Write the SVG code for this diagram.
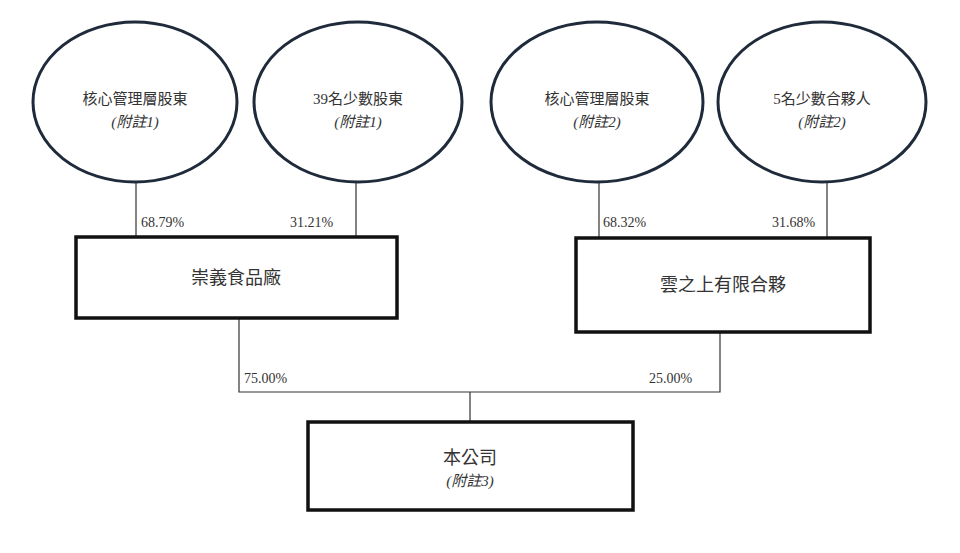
<svg xmlns="http://www.w3.org/2000/svg" width="960" height="553" viewBox="0 0 960 553">
<style>
.e{fill:#fff;stroke:#1f2a3a;stroke-width:3}
.b{fill:#fff;stroke:#111;stroke-width:3.5}
.l{stroke:#333;stroke-width:1.2;fill:none}
text{font-family:"Liberation Serif","Noto Sans CJK TC",serif;fill:#333;text-anchor:middle}
.t{font-size:15px}
.n{font-size:15px;font-style:italic}
.p{font-size:14px;text-anchor:start}
.bt{font-size:18px}
</style>
<rect width="960" height="553" fill="#fff"/>
<g id="connectors">
<path class="l" d="M136 182V237M356 180V237M599 180V238M827 180V238M239 318V392H720V332M470 392V422"/>
</g>
<g id="pct">
<text class="p" x="141" y="227">68.79%</text>
<text class="p" x="290" y="227">31.21%</text>
<text class="p" x="603" y="227">68.32%</text>
<text class="p" x="772" y="227">31.68%</text>
<text class="p" x="244" y="383">75.00%</text>
<text class="p" x="649" y="383">25.00%</text>
</g>
<g id="n1"><ellipse class="e" cx="135" cy="102" rx="102" ry="80"/><text class="t" x="135" y="104">核心管理層股東</text><text class="n" x="135" y="127">(附註1)</text></g>
<g id="n2"><ellipse class="e" cx="358" cy="102" rx="104" ry="80"/><text class="t" x="358" y="104">39名少數股東</text><text class="n" x="358" y="127">(附註1)</text></g>
<g id="n3"><ellipse class="e" cx="597" cy="102" rx="106" ry="80"/><text class="t" x="597" y="104">核心管理層股東</text><text class="n" x="597" y="127">(附註2)</text></g>
<g id="n4"><ellipse class="e" cx="822" cy="102" rx="104" ry="80"/><text class="t" x="822" y="104">5名少數合夥人</text><text class="n" x="822" y="127">(附註2)</text></g>
<g id="n5"><rect class="b" x="76" y="237" width="321" height="81"/><text class="bt" x="236" y="284">崇義食品廠</text></g>
<g id="n6"><rect class="b" x="576" y="238" width="294" height="94"/><text class="bt" x="723" y="291">雲之上有限合夥</text></g>
<g id="n7"><rect class="b" x="308" y="422" width="325" height="88"/><text class="bt" x="470" y="464">本公司</text><text class="n" x="470" y="486">(附註3)</text></g>
</svg>
